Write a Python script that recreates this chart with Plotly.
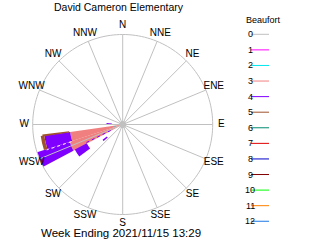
import plotly.graph_objects as go

# ---- data ----
directions = [0, 22.5, 45, 67.5, 90, 112.5, 135, 157.5, 180, 202.5, 225, 247.5, 270, 292.5, 315, 337.5]
dir_labels = ["N", "NNE", "NE", "ENE", "E", "ESE", "SE", "SSE", "S", "SSW", "SW", "WSW", "W", "WNW", "NW", "NNW"]

beaufort = list(range(13))
beaufort_colors = ["#c0c0c0", "#ff00ff", "#00e8f0", "#f08080", "#8000ff", "#a0522d", "#008c70",
                   "#e00000", "#0000c8", "#800000", "#00ff00", "#ff8000", "#1e78e8"]

# main stacked sectors (direction, width) with Beaufort 3/4/5 lengths
main_theta = [257, 247]
main_width = [10, 10]
b3_len = [0.59, 0.62]
b4_len = [0.29, 0.38]
b5_len = [0.04, 0.0]

# small detached pieces
piece_theta = [238, 231, 273, 269, 258, 262.2]
piece_width = [9, 4, 4, 3, 3, 1.5]
piece_base = [0.45, 0.22, 0.12, 0.06, 0.08, 0.60]
piece_len = [0.15, 0.06, 0.06, 0.05, 0.03, 0.30]
piece_beaufort = [4, 4, 4, 1, 2, 5]

calm = [0]
ring_r = 1.0
label_r = 1.095
r_max = 1.12

FONT = "Liberation Sans"
GRAY = "#c0c0c0"

fig = go.Figure()

# stacked sectors
base = [0.0] * len(main_theta)
for b, lens in ((3, b3_len), (4, b4_len), (5, b5_len)):
    fig.add_trace(go.Barpolar(
        r=lens, theta=main_theta, width=main_width, base=base[:],
        marker=dict(color=beaufort_colors[b], line=dict(width=0)),
        showlegend=False, hoverinfo="skip"))
    base = [x + y for x, y in zip(base, lens)]

# detached pieces
for t, w, b0, ln, bf in zip(piece_theta, piece_width, piece_base, piece_len, piece_beaufort):
    fig.add_trace(go.Barpolar(
        r=[ln], theta=[t], width=[w], base=[b0],
        marker=dict(color=beaufort_colors[bf], line=dict(width=0)),
        showlegend=False, hoverinfo="skip"))

# dotted artefact lines
fig.add_trace(go.Scatterpolar(r=[0.60, 0.89], theta=[251.5, 251.5], mode="lines",
                              line=dict(color="white", width=1, dash="dot"),
                              showlegend=False, hoverinfo="skip"))
fig.add_trace(go.Scatterpolar(r=[0.15, 0.45], theta=[243.5, 243.5], mode="lines",
                              line=dict(color=beaufort_colors[4], width=1, dash="dot"),
                              showlegend=False, hoverinfo="skip"))

# spokes on top
sr, st = [], []
for d in directions:
    sr += [0, ring_r, None]
    st += [d, d, None]
fig.add_trace(go.Scatterpolar(r=sr, theta=st, mode="lines",
                              line=dict(color=GRAY, width=1),
                              showlegend=False, hoverinfo="skip"))

# outer ring
ring_theta = [i * 2 for i in range(181)]
fig.add_trace(go.Scatterpolar(r=[ring_r] * len(ring_theta), theta=ring_theta, mode="lines",
                              line=dict(color=GRAY, width=1),
                              showlegend=False, hoverinfo="skip"))

# calm dot
fig.add_trace(go.Scatterpolar(r=calm, theta=[0], mode="markers",
                              marker=dict(color=GRAY, size=7),
                              showlegend=False, hoverinfo="skip"))

# compass labels just outside the ring
fig.add_trace(go.Scatterpolar(r=[label_r] * len(directions), theta=directions, mode="text",
                              text=dir_labels, textposition="middle center",
                              textfont=dict(family=FONT, size=10, color="black"),
                              cliponaxis=False, showlegend=False, hoverinfo="skip"))

cx, cy, R = 122.7, 124.5, 90
Rd = R * r_max
W, H = 320, 240
fig.update_layout(
    width=W, height=H,
    margin=dict(l=0, r=0, t=0, b=0),
    paper_bgcolor="white",
    showlegend=False,
    polar=dict(
        domain=dict(x=[(cx - Rd) / W, (cx + Rd) / W], y=[1 - (cy + Rd) / H, 1 - (cy - Rd) / H]),
        bgcolor="rgba(0,0,0,0)",
        barmode="overlay",
        angularaxis=dict(rotation=90, direction="clockwise",
                         tickmode="array", tickvals=directions, ticktext=dir_labels,
                         showticklabels=False, showgrid=False, showline=False, ticks=""),
        radialaxis=dict(visible=False, range=[0, r_max]),
    ),
    font=dict(family=FONT, size=10, color="black"),
)

annotations = [
    dict(text="David Cameron Elementary", x=119 / W, y=1 - 7 / H, xref="paper", yref="paper",
         showarrow=False, xanchor="center", yanchor="middle", font=dict(family=FONT, size=10.5)),
    dict(text="Week Ending 2021/11/15 13:29", x=120.5 / W, y=1 - 233 / H, xref="paper", yref="paper",
         showarrow=False, xanchor="center", yanchor="middle", font=dict(family=FONT, size=11.5)),
    dict(text="Beaufort", x=263 / W, y=1 - 20 / H, xref="paper", yref="paper",
         showarrow=False, xanchor="center", yanchor="middle", font=dict(family=FONT, size=9)),
]
shapes = []
y0, dy = 34.3, 15.58
for i, (b, c) in enumerate(zip(beaufort, beaufort_colors)):
    yy = y0 + i * dy
    shapes.append(dict(type="line", xref="paper", yref="paper",
                       x0=251 / W, x1=269 / W, y0=1 - yy / H, y1=1 - yy / H,
                       line=dict(color=c, width=1)))
    annotations.append(dict(text=str(b), x=250 / W, y=1 - yy / H, xref="paper", yref="paper",
                            showarrow=False, xanchor="center", yanchor="middle",
                            font=dict(family=FONT, size=9)))
fig.update_layout(annotations=annotations, shapes=shapes)

fig.write_html("out.html")
